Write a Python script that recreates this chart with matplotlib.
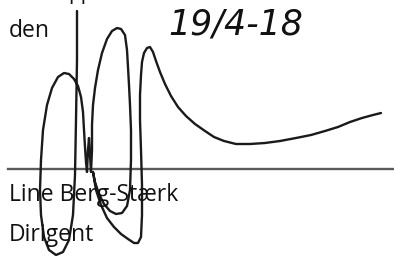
import matplotlib
matplotlib.use("Agg")
import matplotlib.pyplot as plt

# signature stroke (pixel coords, y down)
sig_x = [77, 77, 76, 75, 73, 69, 63, 56, 49, 44, 41, 40, 41, 43, 47, 52, 58, 64, 69, 74,
         78, 81, 83, 84, 85, 86, 87, 88, 89, 90, 91, 92, 92, 93, 95, 98, 102, 107, 112, 117,
         121, 125, 127, 128, 129, 130, 131, 131, 130, 127, 122, 116, 110, 104, 99, 95, 93,
         96, 101, 107, 114, 121, 128, 134, 138, 141, 142, 142, 141, 140, 140, 141, 142, 144,
         147, 150, 153, 156, 160, 165, 171, 178, 186, 195, 205, 214, 224, 236, 250, 265,
         280, 296, 311, 325, 338, 350, 362, 373, 381]
sig_y = [11, 60, 120, 175, 215, 240, 252, 255, 250, 237, 215, 190, 160, 130, 105, 88, 77, 73, 74, 79,
         86, 97, 112, 130, 147, 162, 172, 150, 138, 155, 172, 150, 125, 105, 88, 70, 53, 39, 31, 28,
         29, 35, 50, 67, 85, 105, 130, 160, 190, 206, 213, 214, 211, 204, 194, 182, 172,
         190, 205, 218, 227, 234, 239, 243, 243, 237, 215, 185, 150, 120, 95, 75, 62, 53,
         48, 47, 52, 61, 72, 84, 96, 107, 116, 124, 131, 137, 141, 144, 144, 143,
         141, 138, 135, 131, 127, 122, 118, 115, 113]

line_y = 169
date_text = "19/4-18"
name_text = "Line Berg-Stærk"
role_text = "Dirigent"

fig = plt.figure(figsize=(3.94, 2.56), dpi=100)
ax = fig.add_axes([0, 0, 1, 1])
ax.set_xlim(0, 394)
ax.set_ylim(256, 0)
ax.axis("off")

# partial text cut off at the top edge
ax.text(68, -1, "pp", fontsize=15, family="Open Sans", color="#111", va="baseline")
ax.text(262, 0, "eoeo", fontsize=15, family="Open Sans", color="#111", va="baseline")

ax.text(9, 37, "den", fontsize=16.5, family="Open Sans", color="#111", va="baseline")
ax.text(168, 35, date_text, fontsize=25, family="DejaVu Sans", style="italic",
        color="#111", va="baseline")

# signature line
ax.plot([8, 394], [line_y, line_y], color="#5a5a5a", lw=1.7)

ax.text(9, 201, name_text, fontsize=16.5, family="Open Sans", color="#111", va="baseline")
ax.text(9, 241, role_text, fontsize=16.5, family="Open Sans", color="#111", va="baseline")

ax.plot(sig_x, sig_y, color="#1a1a1a", lw=1.7, solid_joinstyle="round",
        solid_capstyle="round")

fig.savefig("out.png", dpi=100)
